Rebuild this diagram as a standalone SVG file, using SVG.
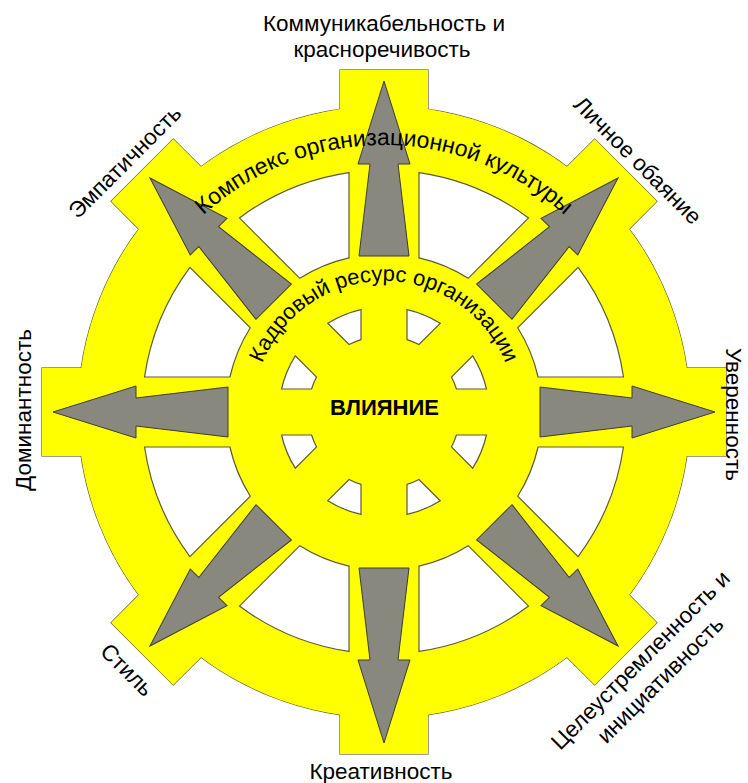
<svg xmlns="http://www.w3.org/2000/svg" xmlns:xlink="http://www.w3.org/1999/xlink" width="748" height="783" viewBox="0 0 748 783">
<style>
.ys{fill:#ffff00;stroke:#5a5a3c;stroke-width:1.2}
.y{fill:#ffff00;stroke:none}
.w{fill:#ffffff;stroke:#5a5a3c;stroke-width:1.2}
.ar{fill:#88887f;stroke:#3c3c30;stroke-width:1}
.lbl{font-family:"Liberation Sans",Arial,sans-serif;font-size:22.5px;fill:#000}
</style>
<defs>
<rect id="tab" x="290" y="-44" width="52" height="88"/>
<path id="win" d="M623.46 447 A242 242 0 0 1 578.07 556.57 L517.70 496.20 A158 158 0 0 0 538.08 447 Z"/>
<path id="hole" d="M486.45 435 A105 105 0 0 1 472.70 468.18 L451.48 446.96 A76 76 0 0 0 456.44 435 Z"/>
<path id="arrow" d="M156 -25 L248 -14 L248 -26 L331 0 L248 26 L248 14 L156 25 Z"/>
<path id="pIn" d="M384 543 A131 131 0 1 1 384 281 A131 131 0 1 1 384 543" fill="none"/>
<path id="pOut" d="M384 679 A267 267 0 1 1 384 145 A267 267 0 1 1 384 679" fill="none"/>
</defs>

<g id="wheel">
  <g class="ys">
    <circle cx="384" cy="412" r="306"/>
    <g transform="translate(384 412)">
      <use href="#tab"/>
      <use href="#tab" transform="rotate(45)"/>
      <use href="#tab" transform="rotate(90)"/>
      <use href="#tab" transform="rotate(135)"/>
      <use href="#tab" transform="rotate(180)"/>
      <use href="#tab" transform="rotate(225)"/>
      <use href="#tab" transform="rotate(270)"/>
      <use href="#tab" transform="rotate(315)"/>
    </g>
  </g>
  <g class="y">
    <circle cx="384" cy="412" r="306"/>
    <g transform="translate(384 412)">
      <use href="#tab"/>
      <use href="#tab" transform="rotate(45)"/>
      <use href="#tab" transform="rotate(90)"/>
      <use href="#tab" transform="rotate(135)"/>
      <use href="#tab" transform="rotate(180)"/>
      <use href="#tab" transform="rotate(225)"/>
      <use href="#tab" transform="rotate(270)"/>
      <use href="#tab" transform="rotate(315)"/>
    </g>
  </g>
  <g class="w">
    <use href="#win"/>
    <use href="#win" transform="rotate(45 384 412)"/>
    <use href="#win" transform="rotate(90 384 412)"/>
    <use href="#win" transform="rotate(135 384 412)"/>
    <use href="#win" transform="rotate(180 384 412)"/>
    <use href="#win" transform="rotate(225 384 412)"/>
    <use href="#win" transform="rotate(270 384 412)"/>
    <use href="#win" transform="rotate(315 384 412)"/>
  </g>
  <g class="w">
    <use href="#hole"/>
    <use href="#hole" transform="rotate(45 384 412)"/>
    <use href="#hole" transform="rotate(90 384 412)"/>
    <use href="#hole" transform="rotate(135 384 412)"/>
    <use href="#hole" transform="rotate(180 384 412)"/>
    <use href="#hole" transform="rotate(225 384 412)"/>
    <use href="#hole" transform="rotate(270 384 412)"/>
    <use href="#hole" transform="rotate(315 384 412)"/>
  </g>
</g>

<g id="connectors" class="ar" transform="translate(384 412)">
  <use href="#arrow"/>
  <use href="#arrow" transform="rotate(45)"/>
  <use href="#arrow" transform="rotate(90)"/>
  <use href="#arrow" transform="rotate(135)"/>
  <use href="#arrow" transform="rotate(180)"/>
  <use href="#arrow" transform="rotate(225)"/>
  <use href="#arrow" transform="rotate(270)"/>
  <use href="#arrow" transform="rotate(315)"/>
</g>

<g id="ring-culture">
  <text class="lbl" style="font-size:23px"><textPath href="#pOut" startOffset="50%" text-anchor="middle">Комплекс организационной культуры</textPath></text>
</g>
<g id="center">
  <text class="lbl" style="font-size:22px"><textPath href="#pIn" startOffset="50%" text-anchor="middle">Кадровый ресурс организации</textPath></text>
  <text class="lbl" x="384.5" y="415" text-anchor="middle" font-weight="bold" style="font-size:22px">ВЛИЯНИЕ</text>
</g>

<g id="n-top">
  <text class="lbl" x="384" y="31" text-anchor="middle">Коммуникабельность и</text>
  <text class="lbl" x="382" y="57" text-anchor="middle">красноречивость</text>
</g>
<g id="n-topright">
  <text class="lbl" transform="translate(637.5 160.5) rotate(45)" text-anchor="middle" dy="0.33em">Личное обаяние</text>
</g>
<g id="n-right">
  <text class="lbl" transform="translate(733 414.5) rotate(90)" text-anchor="middle" dy="0.33em">Уверенность</text>
</g>
<g id="n-bottomright">
  <g transform="translate(650.5 670) rotate(-45)">
    <text class="lbl" x="0" y="-14" text-anchor="middle" dy="0.33em">Целеустремленность и</text>
    <text class="lbl" x="0" y="14" text-anchor="middle" dy="0.33em">инициативность</text>
  </g>
</g>
<g id="n-bottom">
  <text class="lbl" x="381" y="779" text-anchor="middle">Креативность</text>
</g>
<g id="n-bottomleft">
  <text class="lbl" transform="translate(127 670) rotate(45)" text-anchor="middle" dy="0.33em">Стиль</text>
</g>
<g id="n-left">
  <text class="lbl" transform="translate(24 410) rotate(-90)" text-anchor="middle" dy="0.33em">Доминантность</text>
</g>
<g id="n-topleft">
  <text class="lbl" transform="translate(125 162) rotate(-45)" text-anchor="middle" dy="0.33em">Эмпатичность</text>
</g>
</svg>
